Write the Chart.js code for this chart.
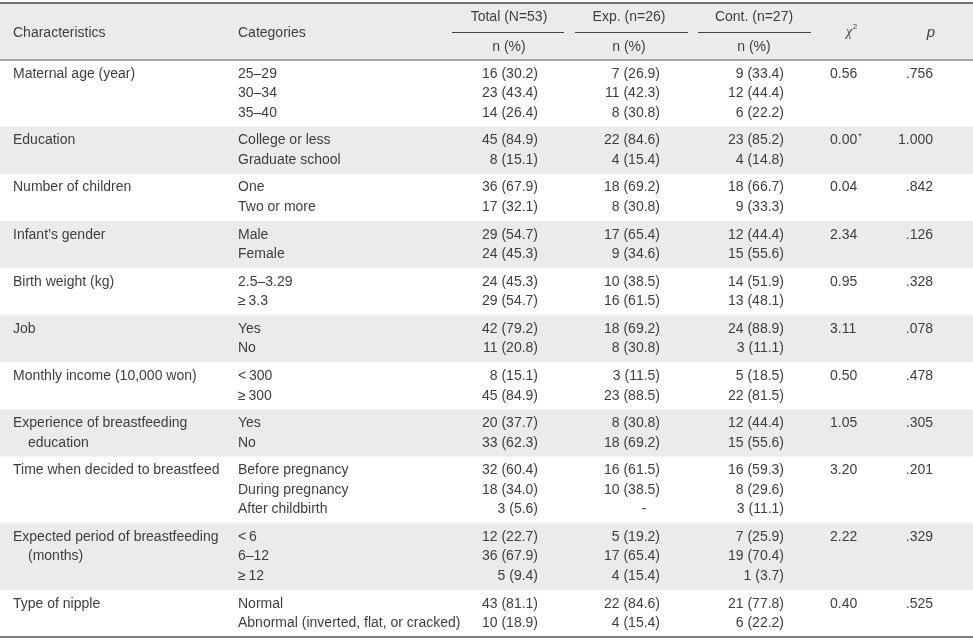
<!DOCTYPE html>
<html>
<head>
<meta charset="utf-8">
<script src="https://cdn.jsdelivr.net/npm/chart.js@4.4.0/dist/chart.umd.min.js"></script>
<style>
  html, body { margin: 0; padding: 0; background: #fff; }
  #wrap { width: 973px; height: 642px; }
</style>
</head>
<body>
<div id="wrap"><canvas id="tbl" width="973" height="642"></canvas></div>
<script>
// table data
const characteristics = [
  ['Maternal age (year)'],
  ['Education'],
  ['Number of children'],
  ["Infant\u2019s gender"],
  ['Birth weight (kg)'],
  ['Job'],
  ['Monthly income (10,000 won)'],
  ['Experience of breastfeeding', 'education'],
  ['Time when decided to breastfeed'],
  ['Expected period of breastfeeding', '(months)'],
  ['Type of nipple']
];
const categories = [
  ['25\u201329', '30\u201334', '35\u201340'],
  ['College or less', 'Graduate school'],
  ['One', 'Two or more'],
  ['Male', 'Female'],
  ['2.5\u20133.29', '\u2265\u20093.3'],
  ['Yes', 'No'],
  ['<\u2009300', '\u2265\u2009300'],
  ['Yes', 'No'],
  ['Before pregnancy', 'During pregnancy', 'After childbirth'],
  ['<\u20096', '6\u201312', '\u2265\u200912'],
  ['Normal', 'Abnormal (inverted, flat, or cracked)']
];
const totalN = [[16, 23, 14], [45, 8], [36, 17], [29, 24], [24, 29], [42, 11], [8, 45], [20, 33], [32, 18, 3], [12, 36, 5], [43, 10]];
const totalPct = [[30.2, 43.4, 26.4], [84.9, 15.1], [67.9, 32.1], [54.7, 45.3], [45.3, 54.7], [79.2, 20.8], [15.1, 84.9], [37.7, 62.3], [60.4, 34.0, 5.6], [22.7, 67.9, 9.4], [81.1, 18.9]];
const expN = [[7, 11, 8], [22, 4], [18, 8], [17, 9], [10, 16], [18, 8], [3, 23], [8, 18], [16, 10, null], [5, 17, 4], [22, 4]];
const expPct = [[26.9, 42.3, 30.8], [84.6, 15.4], [69.2, 30.8], [65.4, 34.6], [38.5, 61.5], [69.2, 30.8], [11.5, 88.5], [30.8, 69.2], [61.5, 38.5, null], [19.2, 65.4, 15.4], [84.6, 15.4]];
const contN = [[9, 12, 6], [23, 4], [18, 9], [12, 15], [14, 13], [24, 3], [5, 22], [12, 15], [16, 8, 3], [7, 19, 1], [21, 6]];
const contPct = [[33.4, 44.4, 22.2], [85.2, 14.8], [66.7, 33.3], [44.4, 55.6], [51.9, 48.1], [88.9, 11.1], [18.5, 81.5], [44.4, 55.6], [59.3, 29.6, 11.1], [25.9, 70.4, 3.7], [77.8, 22.2]];
const chiSq = [0.56, 0.00, 0.04, 2.34, 0.95, 3.11, 0.50, 1.05, 3.20, 2.22, 0.40];
const chiNote = [false, true, false, false, false, false, false, false, false, false, false];
const pValue = [0.756, 1.000, 0.842, 0.126, 0.328, 0.078, 0.478, 0.305, 0.201, 0.329, 0.525];
const groupHeads = ['Total (N=53)', 'Exp. (n=26)', 'Cont. (n=27)'];

// layout (pixels along x, text lines along y)
const LINE = 19.5;
const PAD = 0.415;
const FONT = '14px "Liberation Sans", Arial, sans-serif';
const INK = '#3e3e3e';
const BAND = '#ebebeb';
const col = { chr: 13, cat: 238, tot: 538, exp: 660, cont: 784, chi: 830, p: 933 };
const heads = [{ c: 509, a: 452, b: 564 }, { c: 629, a: 575, b: 688 }, { c: 754, a: 698, b: 811 }];

const starts = [];
let acc = 0;
categories.forEach(c => { starts.push(acc); acc += c.length + PAD; });
const bodyEnd = acc;

const fmt = (n, p) => n == null ? null : n + ' (' + p.toFixed(1) + ')';
const fmtP = v => v >= 1 ? v.toFixed(3) : v.toFixed(3).replace(/^0/, '');

const tablePlugin = {
  id: 'table',
  afterDraw(chart) {
    const { ctx, scales: { x, y } } = chart;
    const X = v => x.getPixelForValue(v);
    const Y = v => y.getPixelForValue(v);
    const Yh = px => Y(px / LINE); // header offsets in px relative to header rule
    ctx.save();

    // header background
    ctx.fillStyle = BAND;
    ctx.fillRect(X(0), Yh(-57), X(973) - X(0), Yh(0) - Yh(-57));

    // row bands
    starts.forEach((s, g) => {
      if (g % 2 === 1) {
        const top = Y(s), bot = Y(s + categories[g].length + PAD);
        ctx.fillRect(X(0), top, X(973) - X(0), bot - top);
      }
    });

    // rules
    const rule = (yy, w, c, a, b) => {
      ctx.strokeStyle = c; ctx.lineWidth = w;
      ctx.beginPath(); ctx.moveTo(a, yy); ctx.lineTo(b, yy); ctx.stroke();
    };
    rule(Yh(-57), 2, '#6f6f6f', X(0), X(973));
    rule(Yh(0), 1.5, '#8a8a8a', X(0), X(973));
    rule(Y(bodyEnd), 1.5, '#555', X(0), X(973));
    heads.forEach(h => rule(Math.round(Yh(-28)) + 0.5, 1, '#444', X(h.a), X(h.b)));

    ctx.font = FONT;
    ctx.fillStyle = INK;
    ctx.textBaseline = 'middle';

    // header text
    ctx.textAlign = 'left';
    ctx.fillText('Characteristics', X(col.chr), Yh(-27));
    ctx.fillText('Categories', X(col.cat), Yh(-27));
    ctx.textAlign = 'center';
    groupHeads.forEach((t, i) => {
      ctx.fillText(t, X(heads[i].c), Yh(-43));
      ctx.fillText('n (%)', X(heads[i].c), Yh(-13));
    });
    ctx.font = 'italic 14px "Liberation Serif", serif';
    ctx.fillText('\u03c7', X(849), Yh(-28));
    ctx.font = '8px "Liberation Sans", Arial, sans-serif';
    ctx.fillText('2', X(855), Yh(-33));
    ctx.font = 'italic 15px "Liberation Sans", Arial, sans-serif';
    ctx.fillText('p', X(931), Yh(-27));
    ctx.font = FONT;

    // body
    starts.forEach((s, g) => {
      const lineY = i => Y(s + PAD / 2 + i + 0.5);
      ctx.textAlign = 'left';
      characteristics[g].forEach((t, i) => ctx.fillText(t, X(col.chr + (i > 0 ? 15 : 0)), lineY(i)));
      categories[g].forEach((t, i) => ctx.fillText(t, X(col.cat), lineY(i)));
      ctx.textAlign = 'right';
      [[totalN, totalPct, col.tot], [expN, expPct, col.exp], [contN, contPct, col.cont]].forEach(([ns, ps, cx]) => {
        ns[g].forEach((n, i) => {
          const txt = fmt(n, ps[g][i]);
          if (txt) {
            ctx.fillText(txt, X(cx), lineY(i));
          } else {
            ctx.textAlign = 'center';
            ctx.fillText('-', X(cx - 16), lineY(i));
            ctx.textAlign = 'right';
          }
        });
      });
      ctx.textAlign = 'left';
      const chiTxt = chiSq[g].toFixed(2);
      ctx.fillText(chiTxt, X(col.chi), lineY(0));
      if (chiNote[g]) {
        const w = ctx.measureText(chiTxt).width;
        ctx.font = '9px "Liberation Sans", Arial, sans-serif';
        ctx.fillText('*', X(col.chi) + w + 1, lineY(0) - 4);
        ctx.font = FONT;
      }
      ctx.textAlign = 'right';
      ctx.fillText(fmtP(pValue[g]), X(col.p), lineY(0));
    });
    ctx.restore();
  }
};

new Chart(document.getElementById('tbl'), {
  type: 'scatter',
  data: { datasets: [{ data: [], pointRadius: 0 }] },
  options: {
    responsive: false,
    animation: false,
    devicePixelRatio: 1,
    layout: { padding: 0 },
    plugins: { legend: { display: false }, tooltip: { enabled: false } },
    scales: {
      x: { type: 'linear', min: 0, max: 973, display: false },
      y: { type: 'linear', min: -60 / LINE, max: bodyEnd + 5 / LINE, reverse: true, display: false }
    }
  },
  plugins: [tablePlugin]
});
</script>
</body>
</html>
